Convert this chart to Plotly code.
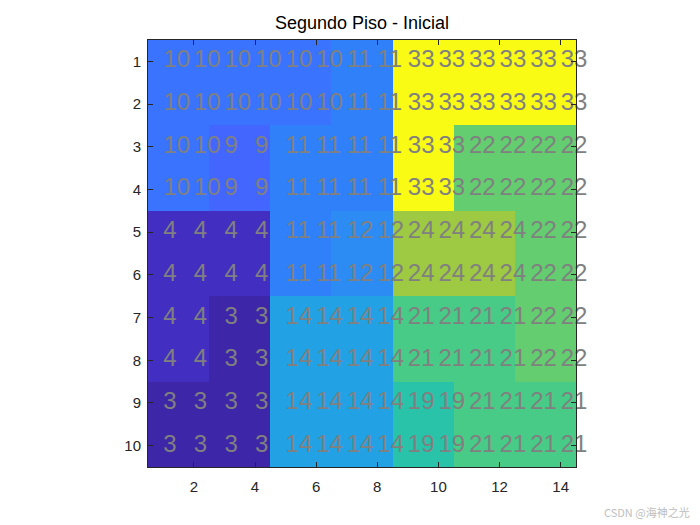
import plotly.graph_objects as go
import numpy as np

title = "Segundo Piso - Inicial"
rows = list(range(1, 11))
cols = list(range(1, 15))
grid = [
    [10, 10, 10, 10, 10, 10, 11, 11, 33, 33, 33, 33, 33, 33],
    [10, 10, 10, 10, 10, 10, 11, 11, 33, 33, 33, 33, 33, 33],
    [10, 10, 9, 9, 11, 11, 11, 11, 33, 33, 22, 22, 22, 22],
    [10, 10, 9, 9, 11, 11, 11, 11, 33, 33, 22, 22, 22, 22],
    [4, 4, 4, 4, 11, 11, 12, 12, 24, 24, 24, 24, 22, 22],
    [4, 4, 4, 4, 11, 11, 12, 12, 24, 24, 24, 24, 22, 22],
    [4, 4, 3, 3, 14, 14, 14, 14, 21, 21, 21, 21, 22, 22],
    [4, 4, 3, 3, 14, 14, 14, 14, 21, 21, 21, 21, 22, 22],
    [3, 3, 3, 3, 14, 14, 14, 14, 19, 19, 21, 21, 21, 21],
    [3, 3, 3, 3, 14, 14, 14, 14, 19, 19, 21, 21, 21, 21],
]
x_ticks = [2, 4, 6, 8, 10, 12, 14]
y_ticks = list(range(1, 11))

parula = [
    (0.2422, 0.1504, 0.6603), (0.2504, 0.1650, 0.7076), (0.2578, 0.1818, 0.7511), (0.2647, 0.1978, 0.7952),
    (0.2706, 0.2147, 0.8364), (0.2751, 0.2342, 0.8710), (0.2783, 0.2559, 0.8991), (0.2803, 0.2782, 0.9221),
    (0.2813, 0.3006, 0.9414), (0.2810, 0.3228, 0.9579), (0.2795, 0.3447, 0.9717), (0.2760, 0.3667, 0.9829),
    (0.2699, 0.3892, 0.9906), (0.2602, 0.4123, 0.9952), (0.2440, 0.4358, 0.9988), (0.2206, 0.4603, 0.9973),
    (0.1963, 0.4847, 0.9892), (0.1834, 0.5074, 0.9798), (0.1786, 0.5289, 0.9682), (0.1764, 0.5499, 0.9520),
    (0.1687, 0.5703, 0.9359), (0.1540, 0.5902, 0.9218), (0.1460, 0.6091, 0.9079), (0.1380, 0.6276, 0.8973),
    (0.1248, 0.6459, 0.8883), (0.1113, 0.6635, 0.8763), (0.0952, 0.6798, 0.8598), (0.0689, 0.6948, 0.8394),
    (0.0297, 0.7082, 0.8163), (0.0036, 0.7203, 0.7917), (0.0067, 0.7312, 0.7660), (0.0433, 0.7411, 0.7394),
    (0.0964, 0.7500, 0.7120), (0.1408, 0.7584, 0.6842), (0.1717, 0.7670, 0.6554), (0.1938, 0.7758, 0.6251),
    (0.2161, 0.7843, 0.5923), (0.2470, 0.7918, 0.5567), (0.2906, 0.7973, 0.5188), (0.3406, 0.8008, 0.4789),
    (0.3909, 0.8029, 0.4354), (0.4456, 0.8024, 0.3909), (0.5044, 0.7993, 0.3480), (0.5616, 0.7942, 0.3045),
    (0.6174, 0.7876, 0.2612), (0.6720, 0.7793, 0.2227), (0.7242, 0.7698, 0.1910), (0.7738, 0.7598, 0.1646),
    (0.8203, 0.7498, 0.1535), (0.8634, 0.7406, 0.1596), (0.9035, 0.7330, 0.1774), (0.9393, 0.7288, 0.2100),
    (0.9728, 0.7298, 0.2394), (0.9956, 0.7434, 0.2371), (0.9970, 0.7659, 0.2199), (0.9952, 0.7893, 0.2028),
    (0.9892, 0.8136, 0.1885), (0.9786, 0.8386, 0.1766), (0.9676, 0.8639, 0.1643), (0.9610, 0.8890, 0.1537),
    (0.9597, 0.9135, 0.1423), (0.9628, 0.9373, 0.1265), (0.9691, 0.9606, 0.1064), (0.9769, 0.9839, 0.0805),
]
n = len(parula)
colorscale = [[i / (n - 1), "rgb(%d,%d,%d)" % tuple(round(c * 255) for c in col)] for i, col in enumerate(parula)]

fig = go.Figure()
fig.add_trace(go.Heatmap(
    z=grid, x=cols, y=rows, colorscale=colorscale, zmin=3, zmax=33,
    showscale=False, hoverinfo="skip",
))

tx, ty, tt = [], [], []
for r, row in zip(rows, grid):
    for c, v in zip(cols, row):
        tx.append(c)
        ty.append(r)
        tt.append(str(v))
fig.add_trace(go.Scatter(
    x=tx, y=ty, text=tt, mode="text", textposition="middle right",
    textfont=dict(family="Liberation Sans, Arial", size=24, color="rgb(128,128,128)"),
    cliponaxis=False, hoverinfo="skip", showlegend=False,
))

axis_common = dict(
    showline=True, linecolor="rgb(38,38,38)", linewidth=1, mirror="ticks",
    ticks="inside", ticklen=5, tickcolor="rgb(38,38,38)", showgrid=False, zeroline=False,
    tickfont=dict(family="Liberation Sans, Arial", size=15, color="rgb(38,38,38)"),
)
fig.update_xaxes(range=[0.5, 14.5], tickvals=x_ticks, ticklabelstandoff=6, **axis_common)
fig.update_yaxes(range=[10.5, 0.5], tickvals=y_ticks, ticklabelstandoff=3, **axis_common)

# body margin of 8px offsets the figure inside the window
L, R, T, B = 140, 568, 32, 459
fig.update_layout(
    width=700, height=525,
    margin=dict(l=L, r=700 - R, t=T, b=525 - B),
    paper_bgcolor="white", plot_bgcolor="white",
    title=dict(text=title, x=(L + R) / 2 / 700, xanchor="center", y=1 - 15 / 525, yanchor="middle",
               font=dict(family="Liberation Sans, Arial", size=18, color="black")),
    showlegend=False,
)
fig.add_annotation(
    text="CSDN @海神之光", xref="paper", yref="paper", x=(684 - L) / (R - L), y=-(504 - B) / (B - T),
    xanchor="right", yanchor="middle", showarrow=False,
    font=dict(family="Noto Sans CJK SC", size=11, color="rgb(190,190,190)"),
)
fig.write_html("out.html")
